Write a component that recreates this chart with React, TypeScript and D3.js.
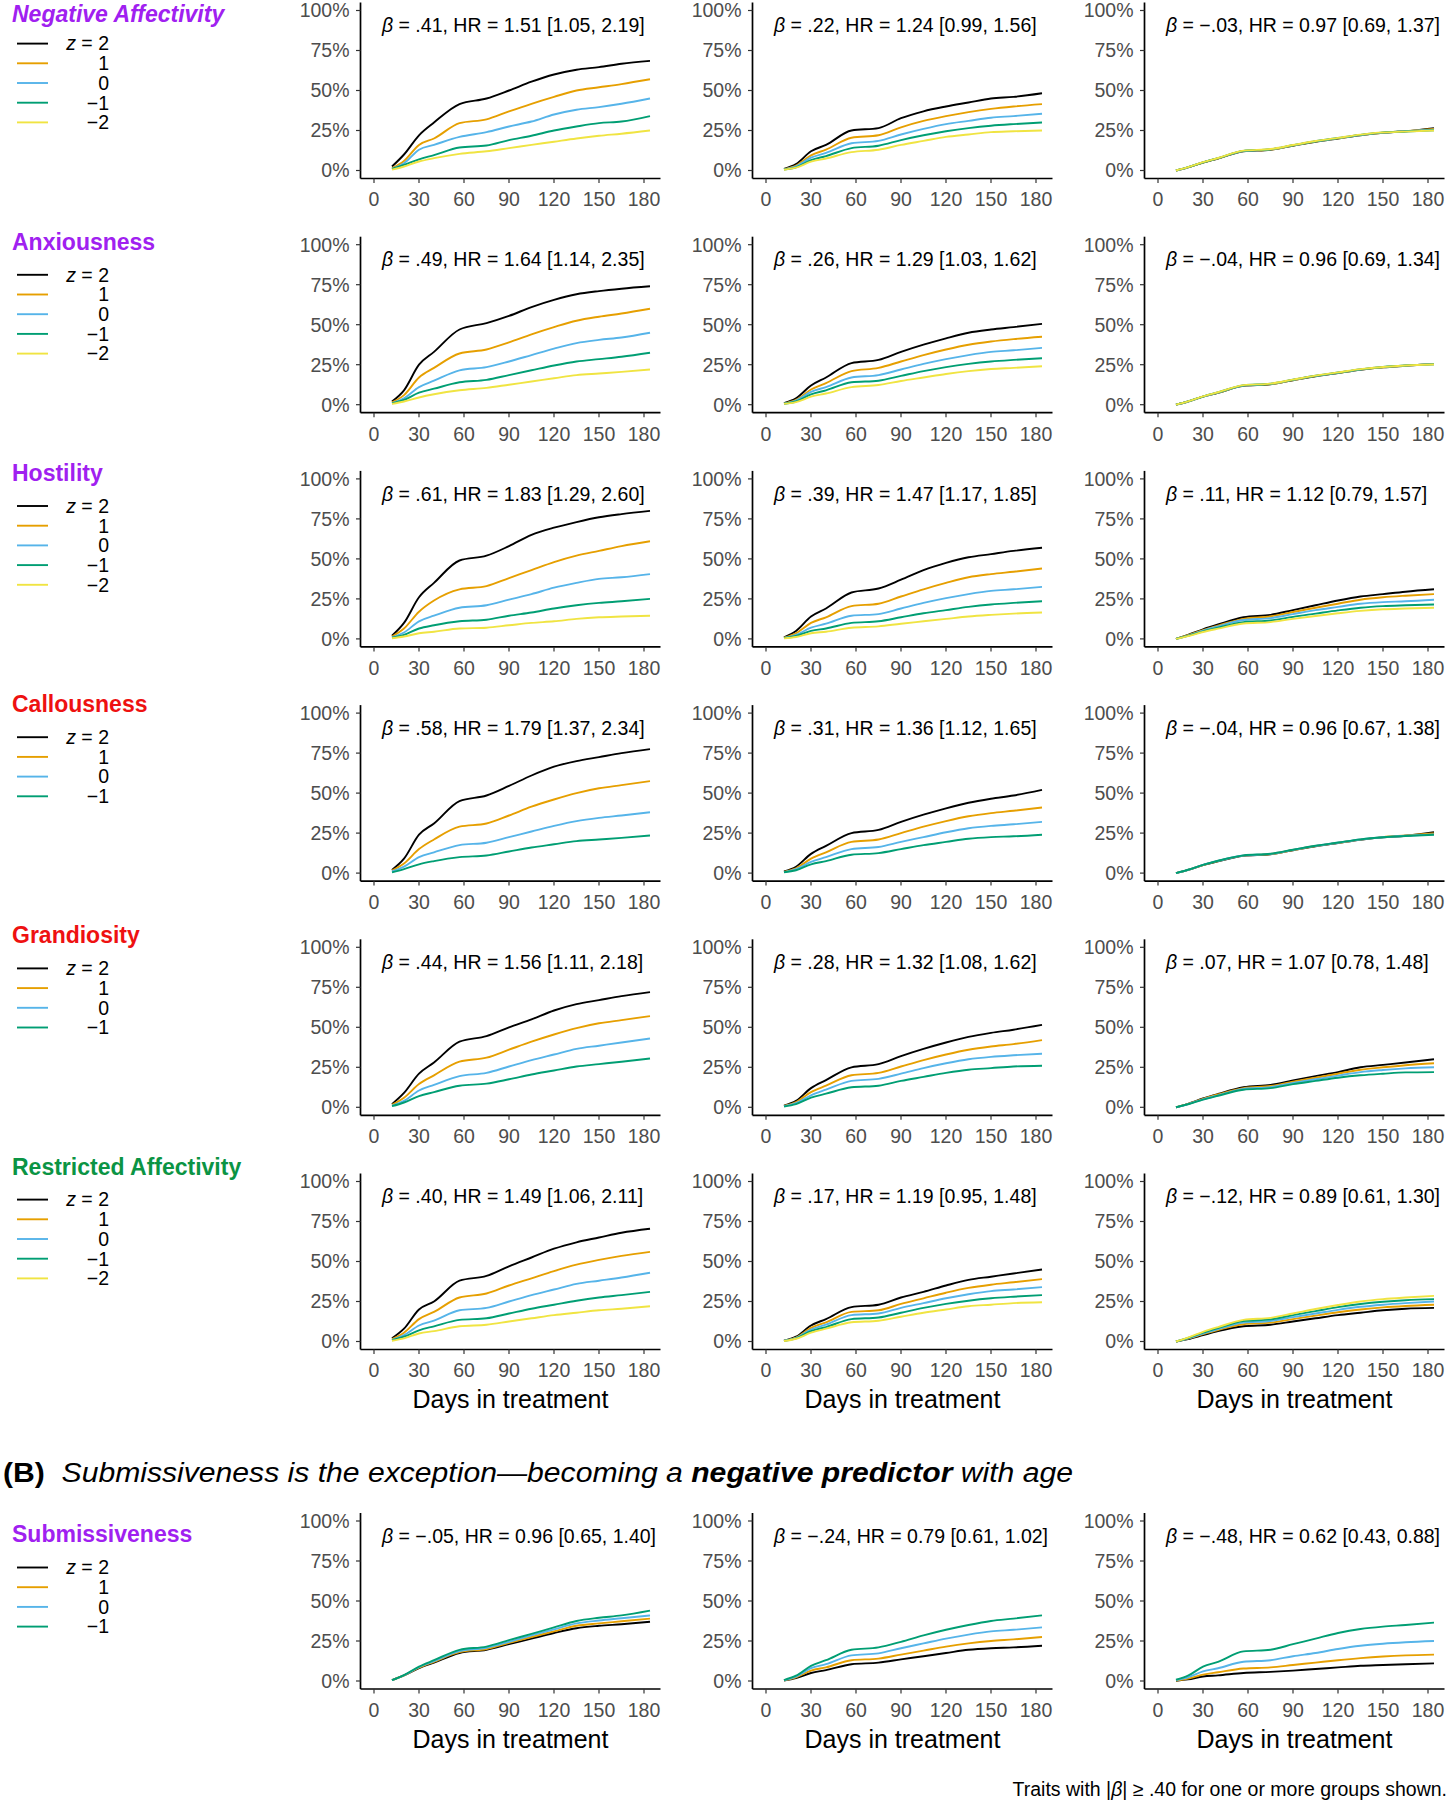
import React from "react";
import * as d3 from "d3";

// ---------- shared axes / labels ----------
const DAYS = [12, 20, 30, 40, 57, 75, 90, 105, 120, 135, 150, 165, 184];
const X_TICKS = [0, 30, 60, 90, 120, 150, 180];
const Y_TICKS = [0, 0.25, 0.5, 0.75, 1];
const Z_LABELS = ["2", "1", "0", "−1", "−2"];
const LINE_COLORS = ["#000000", "#E69F00", "#56B4E9", "#009E73", "#F0E442"];

const TRAITS = [
  "Negative Affectivity",
  "Anxiousness",
  "Hostility",
  "Callousness",
  "Grandiosity",
  "Restricted Affectivity",
];
const TRAIT_COLORS = ["#A020F0", "#A020F0", "#A020F0", "#EE1111", "#EE1111", "#0B9444"];
const TRAIT_ITALIC = [true, false, false, false, false, false];

const ANNOTATIONS = [
  [" = .41, HR = 1.51 [1.05, 2.19]", " = .22, HR = 1.24 [0.99, 1.56]", " = −.03, HR = 0.97 [0.69, 1.37]"],
  [" = .49, HR = 1.64 [1.14, 2.35]", " = .26, HR = 1.29 [1.03, 1.62]", " = −.04, HR = 0.96 [0.69, 1.34]"],
  [" = .61, HR = 1.83 [1.29, 2.60]", " = .39, HR = 1.47 [1.17, 1.85]", " = .11, HR = 1.12 [0.79, 1.57]"],
  [" = .58, HR = 1.79 [1.37, 2.34]", " = .31, HR = 1.36 [1.12, 1.65]", " = −.04, HR = 0.96 [0.67, 1.38]"],
  [" = .44, HR = 1.56 [1.11, 2.18]", " = .28, HR = 1.32 [1.08, 1.62]", " = .07, HR = 1.07 [0.78, 1.48]"],
  [" = .40, HR = 1.49 [1.06, 2.11]", " = .17, HR = 1.19 [0.95, 1.48]", " = −.12, HR = 0.89 [0.61, 1.30]"],
];
const SUB_TITLE = "Submissiveness";
const SUB_ANNOTATIONS = [" = −.05, HR = 0.96 [0.65, 1.40]", " = −.24, HR = 0.79 [0.61, 1.02]", " = −.48, HR = 0.62 [0.43, 0.88]"];

// ---------- cumulative incidence (%) at DAYS; rows: z = 2, 1, 0, −1, −2 ----------
const negAffCol1 = [
  [2.5, 10, 22, 30, 41.5, 45, 50, 55.5, 60, 63, 64.6, 66.7, 68.5],
  [1.5, 6, 16, 20, 29.6, 32, 37, 41.7, 46, 50, 52, 54, 57],
  [1, 4.5, 13, 16, 21, 24, 27.5, 30.6, 35, 38, 39.6, 41.7, 45],
  [1, 3.5, 7, 9.6, 14.4, 15.6, 19, 21.7, 25, 27.5, 29.6, 30.6, 34],
  [0.5, 2.5, 5.6, 7.7, 10.4, 12, 14, 16, 18, 20, 21.7, 23, 25],
];
const negAffCol2 = [
  [1, 4, 12, 16, 25, 26.5, 32.7, 37, 40, 42.5, 45, 46, 48.3],
  [0.8, 3, 9.5, 13, 20.5, 22, 27, 31, 34, 36.5, 38.5, 40, 41.5],
  [0.7, 2.5, 8, 11, 17, 18.5, 22.5, 26, 29, 31, 33, 34, 35.5],
  [0.6, 2, 6.5, 9, 14, 15.5, 19, 22, 24.5, 26.5, 28, 29, 30],
  [0.5, 1.8, 5.5, 7.5, 11.5, 13, 16, 18.5, 21, 22.5, 24, 24.5, 25],
];
const negAffCol3 = [
  [0, 2, 5, 7.5, 12, 13, 15.5, 18, 20, 22, 23.5, 24.5, 26.5],
  [0, 2, 5, 7.6, 12.1, 13.1, 15.6, 18.1, 20.1, 22.1, 23.6, 24.6, 26],
  [0, 2, 5.1, 7.7, 12.2, 13.2, 15.7, 18.2, 20.2, 22.2, 23.7, 24.5, 25.5],
  [0, 2.1, 5.1, 7.7, 12.3, 13.3, 15.8, 18.3, 20.3, 22.3, 23.8, 24.4, 25.2],
  [0, 2.1, 5.2, 7.8, 12.4, 13.4, 15.9, 18.4, 20.4, 22.4, 23.8, 24.3, 25],
];
const anxCol1 = [
  [2, 9, 25, 33, 47, 51, 55.5, 61, 65.5, 69, 71, 72.5, 74],
  [1.5, 6, 17, 23, 32, 34.5, 39, 44, 48.5, 52.5, 55, 57, 60],
  [1, 4, 11, 15, 21.5, 23.5, 27, 31, 35, 38.5, 40.5, 42, 45],
  [0.8, 3, 7.5, 10, 14, 15.5, 18.5, 21.5, 24.5, 27, 28.5, 30, 32.5],
  [0.5, 2, 4.5, 6.5, 9, 10.5, 12.5, 14.5, 16.5, 18.5, 19.5, 20.5, 22],
];
const anxCol2 = [
  [1, 4, 12, 17, 26, 28, 33, 37.5, 41.5, 45, 47, 48.5, 50.5],
  [0.8, 3, 9.5, 13.5, 21, 23, 27, 31, 34.5, 37.5, 39.5, 41, 42.5],
  [0.7, 2.5, 8, 11, 17, 18.5, 22, 25.5, 28.5, 31, 33, 34, 35.5],
  [0.6, 2, 6.5, 9, 14, 15, 18, 21, 23.5, 25.5, 27, 28, 29],
  [0.5, 1.6, 5, 7, 11, 12.3, 14.8, 17, 19.2, 21, 22.3, 23, 24],
];
const anxCol3 = [
  [0, 2, 5, 7.4, 11.8, 12.8, 15.3, 17.8, 19.8, 21.8, 23.3, 24.3, 25.5],
  [0, 2, 5, 7.5, 11.9, 12.9, 15.4, 17.9, 19.9, 21.9, 23.4, 24.4, 25.4],
  [0, 2, 5.1, 7.6, 12, 13, 15.5, 18, 20, 22, 23.5, 24.5, 25.3],
  [0, 2.1, 5.1, 7.7, 12.1, 13.1, 15.6, 18.1, 20.1, 22.1, 23.6, 24.5, 25.2],
  [0, 2.1, 5.2, 7.8, 12.2, 13.2, 15.7, 18.2, 20.2, 22.2, 23.6, 24.5, 25.1],
];
const hostCol1 = [
  [2, 10, 26, 35, 49, 52, 58, 65, 69.5, 73, 76, 78, 80],
  [1.5, 6.5, 17, 24, 31, 33, 38, 43, 48, 52, 55, 58, 61],
  [1, 4, 11, 14.5, 19.5, 21, 24.5, 28, 32, 35, 37.5, 38.5, 40.5],
  [0.7, 2.5, 6.5, 8.5, 11, 12, 14.5, 16.5, 19, 21, 22.5, 23.5, 25],
  [0.4, 1.5, 3.5, 4.5, 6.5, 7, 8.5, 10, 11, 12.5, 13.5, 14, 14.5],
];
const hostCol2 = [
  [1, 5, 14, 19, 29, 31.5, 37, 43, 47.5, 51, 53, 55, 57],
  [0.8, 3.5, 10, 13.5, 20.5, 22, 26.5, 31, 35, 38.5, 40.5, 42, 44],
  [0.6, 2.5, 7, 9.5, 14.5, 15.5, 19, 22.5, 25.5, 28, 30, 31, 32.5],
  [0.5, 1.8, 5, 6.5, 10, 11, 13.5, 16, 18, 20, 21.5, 22.5, 23.5],
  [0.3, 1.2, 3.5, 4.5, 7, 7.8, 9.5, 11, 12.5, 14, 15, 15.8, 16.5],
];
const hostCol3 = [
  [0, 2.5, 6, 9, 13.5, 15, 18, 21, 24, 26.5, 28, 29.5, 31],
  [0, 2.3, 5.5, 8.3, 12.5, 14, 16.8, 19.5, 22, 24.5, 26, 27, 28],
  [0, 2.1, 5.2, 7.8, 11.8, 13, 15.5, 18, 20, 22, 23, 23.5, 24.5],
  [0, 1.9, 4.7, 7, 10.5, 11.5, 13.8, 15.8, 17.8, 19.5, 20.5, 21, 21.5],
  [0, 1.7, 4.3, 6.4, 9.6, 10.5, 12.5, 14.3, 16, 17.5, 18.5, 19, 19.5],
];
const callCol1 = [
  [2, 9, 24, 31, 45, 48.5, 54.5, 61, 66.5, 70, 72.5, 75, 77.5],
  [1.5, 6, 15, 21, 29, 31, 36, 41.5, 46, 50, 53, 55, 57.5],
  [1, 4, 10, 13, 17.5, 19, 22.5, 26, 29.5, 32.5, 34.5, 36, 38],
  [0.5, 2.5, 5.5, 7.5, 10, 11, 13.5, 16, 18, 20, 21, 22, 23.5],
];
const callCol2 = [
  [1, 4, 12, 17, 25, 27, 32, 36.5, 40.5, 44, 46.5, 48.5, 52],
  [0.8, 3, 9, 13, 19.5, 21, 25, 29, 32.5, 35.5, 37.5, 39, 41],
  [0.6, 2.5, 7, 10, 15, 16.3, 19.5, 22.5, 25.5, 28, 29.5, 30.5, 32],
  [0.5, 1.8, 5.5, 7.5, 11.5, 12.5, 15, 17.5, 19.5, 21.5, 22.5, 23, 24],
];
const callCol3 = [
  [0, 2, 5, 7.4, 10.8, 11.8, 14.3, 16.8, 18.8, 20.8, 22.3, 23.3, 25.5],
  [0, 2, 5, 7.5, 10.9, 11.9, 14.4, 16.9, 18.9, 20.9, 22.5, 23.5, 24.8],
  [0, 2, 5.1, 7.6, 11, 12, 14.5, 17, 19, 21, 22.4, 23.3, 24.2],
  [0, 2.1, 5.1, 7.7, 11.1, 12.1, 14.6, 17.1, 19.1, 21.1, 22.4, 23.2, 24],
];
const grandCol1 = [
  [2, 9, 21, 28, 41, 44.5, 50, 55, 60.5, 64.5, 67, 69.5, 72],
  [1.5, 6, 14.5, 20, 28.5, 31, 36, 41, 45.5, 49.5, 52.5, 54.5, 57],
  [1, 4, 10.5, 14, 19.5, 21.5, 25.5, 29.5, 33, 36.5, 38.5, 40.5, 43],
  [0.7, 3, 7, 9.5, 13.5, 14.8, 17.5, 20.5, 23, 25.5, 27, 28.5, 30.5],
];
const grandCol2 = [
  [1, 4, 12, 17, 25, 27, 32, 36.5, 40.5, 44, 46.5, 48.5, 51.5],
  [0.8, 3.2, 9.5, 13.5, 20, 21.5, 25.5, 29.5, 33, 36, 38, 39.5, 42],
  [0.7, 2.6, 7.5, 11, 16.5, 17.8, 21, 24.5, 27.5, 30, 31.5, 32.5, 33.5],
  [0.5, 2, 6, 8.5, 12.5, 13.5, 16.5, 19, 21.5, 23.5, 24.5, 25.5, 26],
];
const grandCol3 = [
  [0, 2.2, 5.5, 8.3, 12.5, 14, 16.8, 19.5, 22, 25, 26.5, 28, 30],
  [0, 2.1, 5.3, 8, 12, 13.3, 16, 18.5, 21, 23.5, 25, 26.3, 27.5],
  [0, 2, 5, 7.5, 11.5, 12.6, 15.2, 17.5, 19.8, 22, 23.3, 24.3, 25],
  [0, 1.9, 4.8, 7.2, 11, 12, 14.5, 16.5, 18.5, 20, 21, 21.8, 22],
];
const restCol1 = [
  [2, 8, 20, 25, 38, 41, 47, 52.5, 58, 62, 65, 68, 70.5],
  [1.5, 5.5, 14, 18.5, 27.5, 30, 35, 39.5, 44, 48, 51, 53.5, 56],
  [1, 4, 10, 13, 19.5, 21, 25, 29, 32.5, 36, 38, 40, 43],
  [0.8, 3, 7, 9.5, 13.5, 14.5, 17.5, 20.5, 23, 25.5, 27.5, 29, 31],
  [0.5, 2, 5, 6.5, 9.5, 10.5, 12.5, 14.5, 16.5, 18, 19.5, 20.5, 22],
];
const restCol2 = [
  [0.5, 3, 10, 14, 21.5, 23, 27.5, 31, 35, 38.5, 40.5, 42.5, 45],
  [0.5, 2.5, 8.5, 12, 18.5, 19.5, 23.5, 27, 30.5, 33.5, 35.5, 37, 39],
  [0.5, 2.2, 7.5, 10.5, 16.5, 17.5, 21, 24, 27, 29.5, 31.5, 32.5, 34],
  [0.4, 2, 6.5, 9, 14, 15, 18, 21, 23.5, 25.5, 27, 28, 29],
  [0.3, 1.7, 5.5, 8, 12, 13, 15.5, 18, 20, 22, 23, 24, 24.5],
];
const restCol3 = [
  [0, 1.5, 4, 6.5, 9.5, 10.5, 12.5, 14.5, 16.5, 18, 19.5, 20.5, 21],
  [0, 1.8, 4.6, 7.2, 10.8, 11.8, 14, 16.2, 18.3, 20, 21.3, 22.2, 23],
  [0, 2, 5, 7.8, 11.8, 12.8, 15.2, 17.5, 19.8, 21.7, 23, 24, 25],
  [0, 2.2, 5.5, 8.4, 12.8, 13.8, 16.5, 19, 21.5, 23.4, 24.8, 25.8, 26.5],
  [0, 2.4, 6, 9, 13.5, 14.8, 17.5, 20.3, 22.8, 25, 26.5, 27.5, 28.5],
];
const subCol1 = [
  [0.5, 3.5, 8, 11.5, 17.5, 19.5, 23, 26.5, 30, 33, 34.5, 35.5, 37],
  [0.5, 3.5, 8.3, 12, 18, 20, 23.8, 27.5, 31, 34.5, 36, 37.3, 39],
  [0.5, 3.6, 8.6, 12.4, 18.7, 20.7, 24.5, 28.5, 32.3, 36, 37.8, 39.2, 41],
  [0.5, 3.7, 9, 13, 19.5, 21.5, 25.5, 29.5, 33.5, 37.5, 39.5, 41, 44],
];
const subCol2 = [
  [0.3, 1.8, 5, 6.8, 10.5, 11.5, 13.5, 15.5, 17.5, 19.5, 20.5, 21, 22],
  [0.4, 2.3, 6.5, 8.5, 13, 14, 16.5, 19, 21.5, 23.5, 25, 26, 27.5],
  [0.5, 2.8, 8, 10.5, 16, 17.3, 20.5, 23.5, 26.5, 29, 31, 32, 33.5],
  [0.6, 3.3, 9.5, 13, 19.5, 21, 24.5, 28.5, 32, 35, 37.5, 39, 41],
];
const subCol3 = [
  [0.2, 1, 2.8, 3.5, 5, 5.7, 6.5, 7.5, 8.5, 9.5, 10, 10.5, 11],
  [0.3, 1.5, 4, 5.5, 7.8, 8.5, 10, 11.5, 13, 14.3, 15.3, 16, 16.5],
  [0.5, 2.3, 6, 8, 12, 13, 15.5, 17.5, 20, 22, 23.3, 24.2, 25],
  [0.8, 3.3, 9, 12, 18.5, 19.5, 23, 26.5, 30, 32.5, 34, 35, 36.5],
];

const PANEL_DATA = [
  [negAffCol1, negAffCol2, negAffCol3],
  [anxCol1, anxCol2, anxCol3],
  [hostCol1, hostCol2, hostCol3],
  [callCol1, callCol2, callCol3],
  [grandCol1, grandCol2, grandCol3],
  [restCol1, restCol2, restCol3],
];
const SUB_DATA = [subCol1, subCol2, subCol3];

// ---------- layout ----------
const FONT = "'Liberation Sans', Arial, Helvetica, sans-serif";
const AXIS_X0 = 360.5;
const COL_STEP = 392;
const ROW_Y0 = 10.5;
const ROW_STEP = 234.2;
const SUB_Y100 = 1521;
const LEG_Y0 = 18.5;
const LEG_STEP = 231.2;
const PLOT_W = 300;
const PLOT_H = 160;

type PanelProps = { axisX: number; y100: number; series: number[][]; ann: string; showTitle: boolean };

function Panel({ axisX, y100, series, ann, showTitle }: PanelProps) {
  const xs = d3.scaleLinear().domain([-9, 191]).range([axisX, axisX + PLOT_W]);
  const ys = d3.scaleLinear().domain([-0.05, 1.05]).range([y100 + PLOT_H + 8, y100 - 8]);
  const line = d3
    .line<number>()
    .x((_, i) => xs(DAYS[i]))
    .y((v) => ys(v / 100))
    .curve(d3.curveMonotoneX);
  const axisY = ys(-0.05);
  return (
    <g>
      {series.map((s, i) => (
        <path key={i} d={line(s) || ""} fill="none" stroke={LINE_COLORS[i]} strokeWidth={1.9} strokeLinejoin="round" />
      ))}
      <line x1={axisX} x2={axisX} y1={ys(1.05)} y2={axisY} stroke="#000" strokeWidth={1.7} />
      <line x1={axisX} x2={axisX + PLOT_W} y1={axisY} y2={axisY} stroke="#000" strokeWidth={1.7} />
      {Y_TICKS.map((t) => (
        <g key={"y" + t}>
          <line x1={axisX - 4.5} x2={axisX} y1={ys(t)} y2={ys(t)} stroke="#333" strokeWidth={1.2} />
          <text x={axisX - 11} y={ys(t)} dy="0.35em" textAnchor="end" fontSize={19.5} fill="#4D4D4D" fontFamily={FONT}>
            {d3.format(".0%")(t)}
          </text>
        </g>
      ))}
      {X_TICKS.map((t) => (
        <g key={"x" + t}>
          <line x1={xs(t)} x2={xs(t)} y1={axisY} y2={axisY + 4.5} stroke="#333" strokeWidth={1.2} />
          <text x={xs(t)} y={axisY + 21} dy="0.35em" textAnchor="middle" fontSize={19.5} fill="#4D4D4D" fontFamily={FONT}>
            {t}
          </text>
        </g>
      ))}
      <text x={axisX + 21.5} y={y100 + 14.8} dy="0.35em" fontSize={19.5} fill="#000" fontFamily={FONT}>
        <tspan fontStyle="italic">β</tspan>
        <tspan>{ann}</tspan>
      </text>
      {showTitle && (
        <text x={axisX + 150} y={axisY + 50} dy="0.35em" textAnchor="middle" fontSize={25} fill="#000" fontFamily={FONT}>
          Days in treatment
        </text>
      )}
    </g>
  );
}

type LegendProps = { titleY: number; lineY: number; title: string; color: string; italic: boolean; n: number };

function Legend({ titleY, lineY, title, color, italic, n }: LegendProps) {
  return (
    <g>
      <text x={12} y={titleY} fontSize={23} fontWeight="bold" fontStyle={italic ? "italic" : "normal"} fill={color} fontFamily={FONT}>
        {title}
      </text>
      {Z_LABELS.slice(0, n).map((z, k) => {
        const y = lineY + k * 19.7;
        return (
          <g key={k}>
            <line x1={17} x2={48} y1={y} y2={y} stroke={LINE_COLORS[k]} strokeWidth={1.9} />
            <text x={109} y={y} dy="0.35em" textAnchor="end" fontSize={19.5} fill="#000" fontFamily={FONT}>
              {k === 0 ? (
                <>
                  <tspan fontStyle="italic">z</tspan>
                  <tspan>{" = " + z}</tspan>
                </>
              ) : (
                z
              )}
            </text>
          </g>
        );
      })}
    </g>
  );
}

export default function App() {
  return (
    <svg width={1449} height={1800} style={{ position: "absolute", left: 0, top: 0, background: "#fff" }} fontFamily={FONT}>
      <rect x={0} y={0} width={1449} height={1800} fill="#fff" />
      {TRAITS.map((t, r) => (
        <g key={t}>
          <Legend
            titleY={r === 0 ? 21.5 : LEG_Y0 + r * LEG_STEP}
            lineY={43.6 + r * LEG_STEP}
            title={t}
            color={TRAIT_COLORS[r]}
            italic={TRAIT_ITALIC[r]}
            n={PANEL_DATA[r][0].length}
          />
          {PANEL_DATA[r].map((series, c) => (
            <Panel
              key={c}
              axisX={AXIS_X0 + c * COL_STEP}
              y100={ROW_Y0 + r * ROW_STEP}
              series={series}
              ann={ANNOTATIONS[r][c]}
              showTitle={r === TRAITS.length - 1}
            />
          ))}
        </g>
      ))}

      <text x={3} y={1481.5} fontSize={27} fill="#000" fontFamily={FONT} textLength={1070} lengthAdjust="spacingAndGlyphs">
        <tspan fontWeight="bold">(B)</tspan>
        <tspan fontStyle="italic">{"\u00A0\u00A0Submissiveness is the exception—becoming a "}</tspan>
        <tspan fontStyle="italic" fontWeight="bold">negative predictor</tspan>
        <tspan fontStyle="italic"> with age</tspan>
      </text>

      <Legend titleY={1542} lineY={1567.5} title={SUB_TITLE} color="#A020F0" italic={false} n={SUB_DATA[0].length} />
      {SUB_DATA.map((series, c) => (
        <Panel key={c} axisX={AXIS_X0 + c * COL_STEP} y100={SUB_Y100} series={series} ann={SUB_ANNOTATIONS[c]} showTitle={true} />
      ))}

      <text x={1447} y={1789} dy="0.35em" textAnchor="end" fontSize={19.5} fill="#000" fontFamily={FONT}>
        <tspan>Traits with |</tspan>
        <tspan fontStyle="italic">β</tspan>
        <tspan>| ≥ .40 for one or more groups shown.</tspan>
      </text>
    </svg>
  );
}
